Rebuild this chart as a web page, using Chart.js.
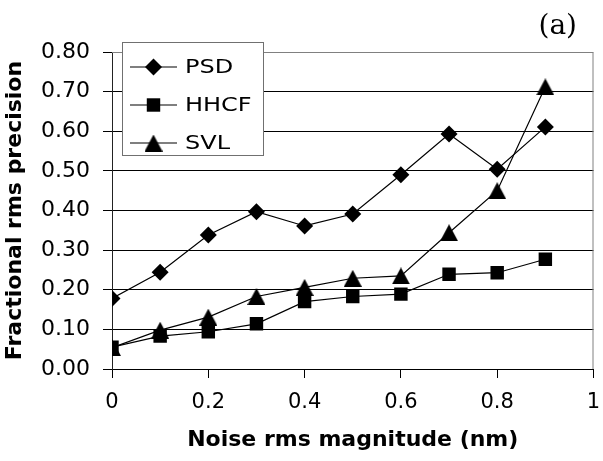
<!DOCTYPE html>
<html>
<head>
<meta charset="utf-8">
<script src="https://cdn.jsdelivr.net/npm/chart.js@4/dist/chart.umd.min.js"></script>
<style>
  html, body { margin: 0; padding: 0; background: #fff; }
  #wrap { width: 603px; height: 461px; }
</style>
</head>
<body>
<div id="wrap"><canvas id="chart" width="603" height="461"></canvas></div>
<script>
// Noise rms magnitude (nm)
const noise = [0, 0.1, 0.2, 0.3, 0.4, 0.5, 0.6, 0.7, 0.8, 0.9];
// Fractional rms precision of each method
const psd  = [0.178, 0.244, 0.338, 0.397, 0.361, 0.391, 0.490, 0.593, 0.504, 0.611];
const hhcf = [0.055, 0.083, 0.094, 0.114, 0.170, 0.183, 0.189, 0.239, 0.243, 0.277];
const svl  = [0.054, 0.098, 0.131, 0.183, 0.206, 0.229, 0.235, 0.344, 0.450, 0.712];
const seriesNames = ['PSD', 'HHCF', 'SVL'];
const panelLabel = '(a)';
const xTitle = 'Noise rms magnitude (nm)';
const yTitle = 'Fractional rms precision';

// Triangle marker centred on its bounding box
function triangleMarker(w, h) {
  const c = document.createElement('canvas');
  c.width = w; c.height = h;
  const g = c.getContext('2d');
  g.fillStyle = '#000';
  g.beginPath();
  g.moveTo(w / 2, 0);
  g.lineTo(w, h);
  g.lineTo(0, h);
  g.closePath();
  g.fill();
  return c;
}
const tri = triangleMarker(18, 17);

const toPoints = ys => noise.map((x, i) => ({ x: x, y: ys[i] }));

const common = {
  borderColor: '#000',
  backgroundColor: '#000',
  pointBackgroundColor: '#000',
  pointBorderColor: '#000',
  borderWidth: 1.2,
  pointBorderWidth: 0,
  tension: 0,
  fill: false
};

const datasets = [
  Object.assign({}, common, { label: seriesNames[0], data: toPoints(psd),  pointStyle: 'rectRot',  pointRadius: 8.5 }),
  Object.assign({}, common, { label: seriesNames[1], data: toPoints(hhcf), pointStyle: 'rect', pointRadius: 9.5 }),
  Object.assign({}, common, { label: seriesNames[2], data: toPoints(svl),  pointStyle: tri, pointRadius: 9 })
];

// Boxed legend inside the plot, plus the panel label and plot frame
const decorations = {
  id: 'decorations',
  afterDraw(chart) {
    const ctx = chart.ctx;
    const area = chart.chartArea;
    ctx.save();
    // top and right frame of the plot area
    ctx.strokeStyle = '#808080';
    ctx.lineWidth = 1;
    ctx.beginPath();
    ctx.moveTo(area.left, area.top + 0.5);
    ctx.lineTo(area.right - 0.5, area.top + 0.5);
    ctx.lineTo(area.right - 0.5, area.bottom);
    ctx.stroke();

    // legend box
    const bx = 122.5, by = 42.5, bw = 141, bh = 113;
    ctx.fillStyle = '#fff';
    ctx.fillRect(bx, by, bw, bh);
    ctx.strokeStyle = '#707070';
    ctx.strokeRect(bx, by, bw, bh);
    const rows = [67, 105, 143];
    chart.data.datasets.forEach((ds, i) => {
      const y = rows[i];
      ctx.strokeStyle = '#000';
      ctx.lineWidth = 1.2;
      ctx.beginPath();
      ctx.moveTo(130, y);
      ctx.lineTo(177, y);
      ctx.stroke();
      ctx.fillStyle = '#000';
      Chart.helpers.drawPoint(ctx, {
        pointStyle: ds.pointStyle,
        radius: ds.pointRadius,
        borderWidth: 0
      }, 153.5, y);
      ctx.save();
      ctx.translate(185, y);
      ctx.scale(1.2, 1);
      ctx.font = '20px "DejaVu Sans"';
      ctx.textBaseline = 'middle';
      ctx.textAlign = 'left';
      ctx.fillText(ds.label, 0, 1);
      ctx.restore();
    });

    // panel label
    ctx.fillStyle = '#000';
    ctx.font = '28px "DejaVu Serif"';
    ctx.textAlign = 'right';
    ctx.textBaseline = 'alphabetic';
    ctx.fillText(panelLabel, 577, 34);
    ctx.restore();
  }
};

new Chart(document.getElementById('chart'), {
  type: 'line',
  data: { datasets: datasets },
  options: {
    responsive: false,
    animation: false,
    devicePixelRatio: 1,
    layout: { padding: { top: 52, right: 5, left: 0, bottom: 0 } },
    plugins: {
      legend: { display: false },
      tooltip: { enabled: false },
      title: { display: false }
    },
    scales: {
      x: {
        type: 'linear',
        min: 0,
        max: 1,
        afterFit(scale) {
          scale.height = 92;
          scale.paddingLeft = 0;
          scale.paddingRight = 0;
        },
        afterBuildTicks(scale) {
          scale.ticks = [0, 0.2, 0.4, 0.6, 0.8, 1].map(v => ({ value: v }));
        },
        ticks: {
          color: '#000',
          font: { family: 'DejaVu Sans', size: 21 },
          padding: 12,
          maxRotation: 0,
          callback: v => String(Math.round(v * 10) / 10)
        },
        grid: {
          drawOnChartArea: false,
          tickLength: 9,
          tickColor: '#000',
          tickWidth: 1
        },
        border: { color: '#000', width: 1 },
        title: {
          display: true,
          text: xTitle,
          color: '#000',
          font: { family: 'DejaVu Sans', size: 22, weight: 'bold' },
          padding: { top: 0, bottom: 8 }
        }
      },
      y: {
        min: 0,
        max: 0.8,
        afterFit(scale) {
          scale.width = 112;
          scale.paddingTop = 0;
          scale.paddingBottom = 0;
        },
        afterBuildTicks(scale) {
          scale.ticks = [0, 0.1, 0.2, 0.3, 0.4, 0.5, 0.6, 0.7, 0.8].map(v => ({ value: v }));
        },
        ticks: {
          color: '#000',
          font: { family: 'DejaVu Sans', size: 22 },
          padding: 13,
          callback: v => Number(v).toFixed(2)
        },
        grid: {
          color: ctx => (ctx.tick && Math.abs(ctx.tick.value - 0.8) < 1e-9) ? '#808080' : '#000',
          tickColor: '#000',
          tickLength: 9,
          lineWidth: 1
        },
        border: { color: '#222', width: 1 },
        title: {
          display: true,
          text: yTitle,
          color: '#000',
          font: { family: 'DejaVu Sans', size: 22, weight: 'bold' },
          padding: { top: 2, bottom: 0 }
        }
      }
    }
  },
  plugins: [decorations]
});
</script>
</body>
</html>
